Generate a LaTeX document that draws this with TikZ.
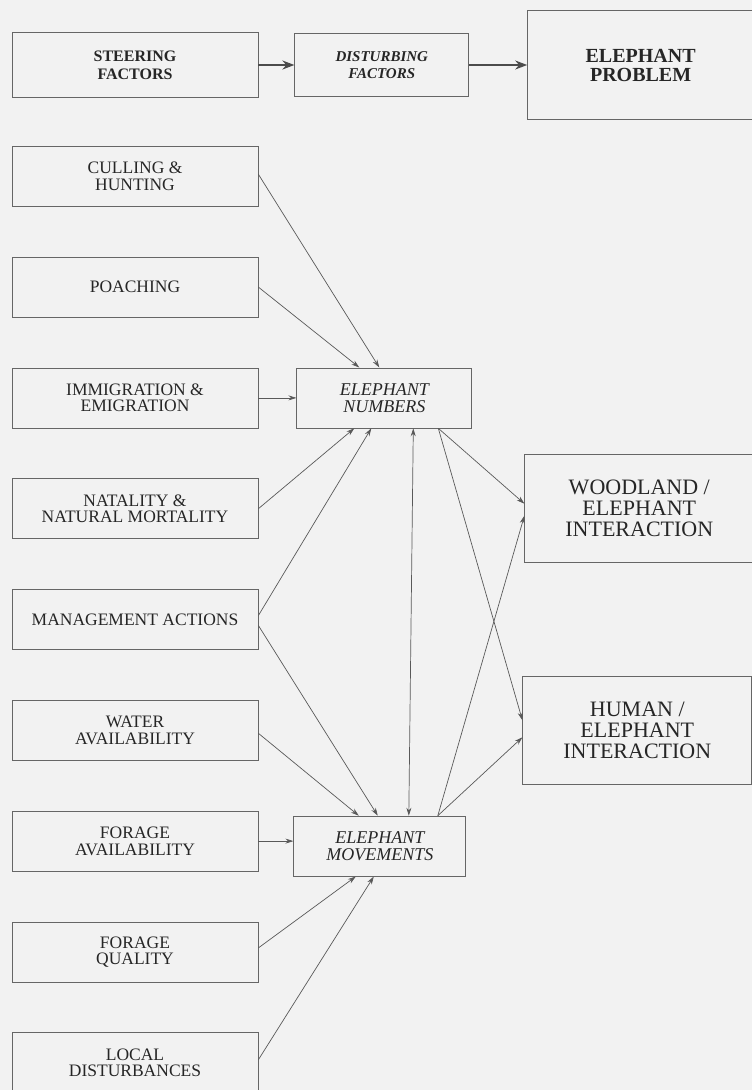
\documentclass[tikz,border=0pt]{standalone}
\usepackage{fontspec}
\setmainfont{Liberation Serif}
\usetikzlibrary{positioning,arrows.meta}

\begin{document}
\begin{tikzpicture}[x=1pt, y=1pt, node distance=50pt, >={Stealth[length=8pt,width=5pt]},
  every node/.style={draw=black!60, line width=0.8pt, align=center, text=black!85, inner sep=2pt},
  factor/.style={minimum width=246pt, minimum height=60pt, font=\fontsize{17.5}{16.5}\selectfont},
  effect/.style={minimum height=60pt, font=\fontsize{18}{16.7}\selectfont\itshape},
  outcome/.style={minimum width=229pt, minimum height=108pt, font=\fontsize{22}{21}\selectfont},
  link/.style={->, black!65, line width=0.7pt},
  bigarrow/.style={-{Stealth[length=12pt,width=9pt]}, black!70, line width=1.8pt}]
\useasboundingbox (0,0) rectangle (752,-1090);
\fill[black!5] (0,0) rectangle (752,-1090);

% top row
\node (steer) [minimum width=246pt, minimum height=65pt, font=\fontsize{16}{18}\selectfont\bfseries] at (135,-65) {STEERING\\FACTORS};
\node (disturb) [right=36pt of steer, minimum width=174pt, minimum height=63pt, font=\fontsize{15}{17}\selectfont\bfseries\itshape] {DISTURBING\\FACTORS};
\node (problem) [right=58pt of disturb, minimum width=226pt, minimum height=109pt, font=\fontsize{20}{19}\selectfont\bfseries] {ELEPHANT\\PROBLEM};

% factors
\node (cull) [factor, below=48pt of steer] {CULLING \&\\HUNTING};
\node (poach) [factor, below=of cull] {POACHING};
\node (immig) [factor, below=of poach] {IMMIGRATION \&\\EMIGRATION};
\node (natal) [factor, below=of immig] {NATALITY \&\\NATURAL MORTALITY};
\node (manage) [factor, below=of natal] {MANAGEMENT ACTIONS};
\node (water) [factor, below=of manage] {WATER\\AVAILABILITY};
\node (forav) [factor, below=of water] {FORAGE\\AVAILABILITY};
\node (forqu) [factor, below=of forav] {FORAGE\\QUALITY};
\node (local) [factor, below=of forqu] {LOCAL\\DISTURBANCES};

% elephants
\node (numbers) [effect, minimum width=175pt, right=38pt of immig] {ELEPHANT\\NUMBERS};
\node (moves) [effect, minimum width=172pt, right=35pt of forav, yshift=-5pt] {ELEPHANT\\MOVEMENTS};

% interactions
\node (wood) [outcome, right=266pt of natal] {WOODLAND /\\ELEPHANT\\INTERACTION};
\node (human) [outcome, right=264pt of water] {HUMAN /\\ELEPHANT\\INTERACTION};

\draw[bigarrow] (steer) -- (disturb);
\draw[bigarrow] (disturb) -- (problem);

\draw[link] ([yshift=2pt]cull.east) -- ([xshift=-5pt]numbers.north);
\draw[link] (poach.east) -- ([xshift=-25pt]numbers.north);
\draw[link] (immig.east) -- (immig.east -| numbers.west);
\draw[link] (natal.east) -- ([xshift=-30pt]numbers.south);
\draw[link] ([yshift=4pt]manage.east) -- ([xshift=-13pt]numbers.south);
\draw[link] ([yshift=-6pt]manage.east) -- ([xshift=-2pt]moves.north);
\draw[link] ([yshift=-3pt]water.east) -- ([xshift=-21pt]moves.north);
\draw[link] (forav.east) -- (forav.east -| moves.west);
\draw[link] ([yshift=4pt]forqu.east) -- ([xshift=-24pt]moves.south);
\draw[link] ([yshift=3pt]local.east) -- ([xshift=-6pt]moves.south);
\draw[link, <->] ([xshift=29pt]numbers.south) -- ([xshift=29pt]moves.north);
\draw[link] ([xshift=54pt]numbers.south) -- ([yshift=5pt]wood.west);
\draw[link] ([xshift=54pt]numbers.south) -- ([yshift=10pt]human.west);
\draw[link] ([xshift=58pt]moves.north) -- ([yshift=-7pt]wood.west);
\draw[link] ([xshift=58pt]moves.north) -- ([yshift=-7pt]human.west);
\end{tikzpicture}
\end{document}
